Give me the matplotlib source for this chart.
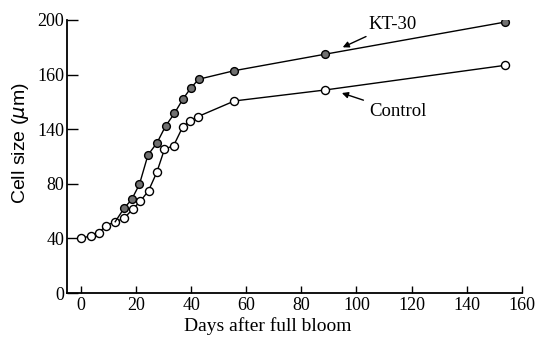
import matplotlib
matplotlib.use("Agg")
import matplotlib.pyplot as plt

# Data
control_days = [0, 3.5, 6.5, 9, 12.4, 15.6, 18.7, 21.5, 24.5, 27.5, 30.3, 33.6, 36.9, 39.6, 42.4, 55.7, 88.5, 154]
control_vals = [40.1, 41.8, 44.2, 49.3, 52.2, 54.7, 61.3, 67.2, 74.9, 88.4, 105.4, 107.9, 121.6, 126.2, 129.2, 140.7, 148.7, 166.8]

kt_days = [12.4, 15.6, 18.4, 21.2, 24.3, 27.6, 30.7, 33.9, 37, 39.8, 42.7, 55.7, 88.5, 154]
kt_vals = [52.2, 62.0, 68.6, 79.6, 101.1, 110.1, 122.3, 131.6, 142.1, 150.0, 156.6, 162.9, 174.9, 198.5]

x_ticks = [0, 20, 40, 60, 80, 100, 120, 140, 160]
y_ticks = [0, 40, 80, 120, 160, 200]
y_tick_labels = ["0", "40", "80", "140", "160", "200"]

serif = "Liberation Serif"

fig = plt.figure(figsize=(5.37, 3.37), dpi=100)
ax = fig.add_axes([67/537, 44/337, (521.7-67)/537, 273/337])

ax.plot(control_days, control_vals, color="black", lw=1.0, marker="o", ms=5.8,
        mfc="white", mec="black", mew=1.0, zorder=3)
ax.plot(kt_days, kt_vals, color="black", lw=1.0, marker="o", ms=5.6,
        mfc="#707070", mec="black", mew=1.0, markevery=slice(1, None), zorder=4)

ax.set_xlim(-5.1, 160)
ax.set_ylim(0, 200)
ax.spines["top"].set_visible(False)
ax.spines["right"].set_visible(False)
for s in ("left", "bottom"):
    ax.spines[s].set_linewidth(1.3)

ax.set_xticks(x_ticks)
ax.set_yticks(y_ticks)
ax.set_yticklabels(y_tick_labels)
ax.tick_params(axis="x", direction="in", length=5, width=1.0, pad=3, labelsize=13)
ax.tick_params(axis="y", direction="in", length=8, width=1.0, pad=2, labelsize=13)
for lab in ax.get_xticklabels() + ax.get_yticklabels():
    lab.set_fontfamily(serif)

ax.set_xlabel("Days after full bloom", fontfamily=serif, fontsize=14)
ax.xaxis.set_label_coords(0.442, -0.121)
ax.xaxis.label.set_va("center")
ax.set_ylabel(r"Cell size ($\mu$m)", fontfamily="Liberation Sans", fontsize=14)
ax.yaxis.set_label_coords(-0.103, 0.549)
ax.yaxis.label.set_va("center")

ax.annotate("KT-30", xy=(95, 180), xytext=(104.5, 197), fontfamily=serif, fontsize=13.5,
            va="center", ha="left",
            arrowprops=dict(arrowstyle="-|>", color="black", lw=1.0, mutation_scale=9,
                            shrinkA=2, shrinkB=0))
ax.annotate("Control", xy=(94.7, 146.5), xytext=(104.5, 133), fontfamily=serif, fontsize=13.5,
            va="center", ha="left",
            arrowprops=dict(arrowstyle="-|>", color="black", lw=1.0, mutation_scale=9,
                            shrinkA=2, shrinkB=0))

fig.savefig("out.png", dpi=100)
